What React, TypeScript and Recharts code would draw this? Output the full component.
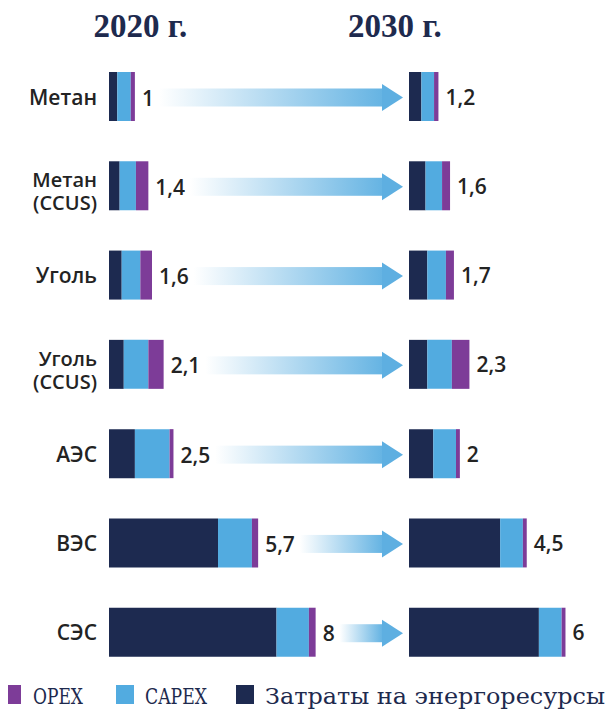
import React from "react";
import { BarChart, Bar, XAxis, YAxis, LabelList } from "recharts";

const categories = ["Метан", "Метан (CCUS)", "Уголь", "Уголь (CCUS)", "АЭС", "ВЭС", "СЭС"];

const energy2020 = [0.32, 0.41, 0.49, 0.57, 1.0, 4.21, 6.47];
const capex2020 = [0.52, 0.63, 0.72, 0.95, 1.34, 1.31, 1.25];
const opex2020 = [0.16, 0.48, 0.45, 0.59, 0.15, 0.24, 0.26];
const total2020 = ["1", "1,4", "1,6", "2,1", "2,5", "5,7", "8"];

const energy2030 = [0.48, 0.64, 0.71, 0.71, 0.94, 3.53, 5.03];
const capex2030 = [0.49, 0.64, 0.72, 0.95, 0.88, 0.88, 0.88];
const opex2030 = [0.17, 0.31, 0.31, 0.68, 0.15, 0.15, 0.15];
const total2030 = ["1,2", "1,6", "1,7", "2,3", "2", "4,5", "6"];

const years = ["2020 г.", "2030 г."];
const seriesNames = ["OPEX", "CAPEX", "Затраты на энергоресурсы"];

const NAVY = "#1d2a50";
const BLUE = "#52abe0";
const PURPLE = "#7d3c98";
const TEXT = "#232323";
const TITLE = "#1e2a4e";
const legendColors = [PURPLE, BLUE, NAVY];

const data2020 = categories.map((name, i) => ({
  name,
  energy: energy2020[i],
  capex: capex2020[i],
  opex: opex2020[i],
  total: total2020[i],
}));
const data2030 = categories.map((name, i) => ({
  name,
  energy: energy2030[i],
  capex: capex2030[i],
  opex: opex2030[i],
  total: total2030[i],
}));

const NUM_FONT = "600 21px 'Open Sans'";
let ctx: CanvasRenderingContext2D | null = null;
const measure = (t: string) => {
  if (!ctx) ctx = document.createElement("canvas").getContext("2d");
  if (!ctx) return t.length * 12;
  ctx.font = NUM_FONT;
  return ctx.measureText(t).width;
};

const C1_W = 405;
const C1_MR = 6;
const ARROW_TIP = C1_W - C1_MR + 4;

const CategoryTick = (props: any) => {
  const { x, y, payload } = props;
  const v: string = payload.value;
  const m = v.match(/^(.*?)\s*(\(.*\))$/);
  const common = {
    textAnchor: "end" as const,
    fill: TEXT,
    fontFamily: "'Open Sans'",
    fontWeight: 600,
  };
  if (m) {
    return (
      <g>
        <text x={x} y={y + 1} fontSize={20} {...common}>{m[1]}</text>
        <text x={x} y={y + 24} fontSize={20} {...common}>{m[2]}</text>
      </g>
    );
  }
  return (
    <text x={x} y={y + 8} fontSize={21} {...common}>
      {v}
    </text>
  );
};

const makeLabel = (withArrow: boolean, dy: number) => (props: any) => {
  const x = Number(props.x);
  const y = Number(props.y);
  const w = Number(props.width);
  const h = Number(props.height);
  const value = String(props.value);
  const idx = props.index;
  const cy = y + h / 2;
  const lx = x + w + 7;
  const tw = measure(value);
  const shaftStart = lx + tw + 5;
  const headLen = 21;
  const headBase = ARROW_TIP - headLen;
  const gid = `arrowGrad${idx}`;
  const acy = cy + 1;
  return (
    <g>
      {withArrow && (
        <g>
          <defs>
            <linearGradient id={gid} x1="0" y1="0" x2="1" y2="0">
              <stop offset="0%" stopColor="#ffffff" />
              <stop offset="100%" stopColor="#66b4e3" />
            </linearGradient>
          </defs>
          <rect x={shaftStart} y={acy - 9} width={Math.max(0, headBase - shaftStart)} height={18} fill={`url(#${gid})`} />
          <polygon
            points={`${headBase},${acy - 13.5} ${ARROW_TIP},${acy} ${headBase},${acy + 13.5}`}
            fill="#5eafe1"
          />
        </g>
      )}
      <text
        x={lx}
        y={cy + dy}
        fill={TEXT}
        fontFamily="'Open Sans'"
        fontWeight={600}
        fontSize={21}
      >
        {value}
      </text>
    </g>
  );
};

const label2020 = makeLabel(true, 9);
const label2030 = makeLabel(false, 8);

const legendSquareX = [3, 116, 236];
const legendTextX = [33, 145, 265];
const legendTextW = [50, 62, 340];

export default function App() {
  return (
    <div
      style={{
        position: "relative",
        width: 613,
        height: 722,
        margin: -8,
        background: "#ffffff",
        overflow: "hidden",
      }}
    >
      <div style={{ position: "absolute", left: 0, top: 0 }}>
        <BarChart
          width={C1_W}
          height={677}
          data={data2020}
          layout="vertical"
          margin={{ top: 52, right: C1_MR, bottom: 0, left: 0 }}
        >
          <XAxis type="number" domain={[0, 11.2]} hide />
          <YAxis
            type="category"
            dataKey="name"
            width={109}
            axisLine={false}
            tickLine={false}
            tickMargin={6}
            interval={0}
            tick={<CategoryTick />}
          />
          <Bar dataKey="energy" name={seriesNames[2]} stackId="a" fill={NAVY} barSize={49} isAnimationActive={false} />
          <Bar dataKey="capex" name={seriesNames[1]} stackId="a" fill={BLUE} barSize={49} isAnimationActive={false} />
          <Bar dataKey="opex" name={seriesNames[0]} stackId="a" fill={PURPLE} barSize={49} isAnimationActive={false}>
            <LabelList dataKey="total" content={label2020} />
          </Bar>
        </BarChart>
      </div>
      <div style={{ position: "absolute", left: 409, top: 0 }}>
        <BarChart
          width={204}
          height={677}
          data={data2030}
          layout="vertical"
          margin={{ top: 52, right: 0, bottom: 0, left: 0 }}
        >
          <XAxis type="number" domain={[0, 7.9]} hide />
          <YAxis type="category" dataKey="name" hide />
          <Bar dataKey="energy" name={seriesNames[2]} stackId="b" fill={NAVY} barSize={49} isAnimationActive={false} />
          <Bar dataKey="capex" name={seriesNames[1]} stackId="b" fill={BLUE} barSize={49} isAnimationActive={false} />
          <Bar dataKey="opex" name={seriesNames[0]} stackId="b" fill={PURPLE} barSize={49} isAnimationActive={false}>
            <LabelList dataKey="total" content={label2030} />
          </Bar>
        </BarChart>
      </div>
      <svg
        width={613}
        height={722}
        style={{ position: "absolute", left: 0, top: 0, pointerEvents: "none" }}
      >
        <text x={140.5} y={37} textAnchor="middle" fill={TITLE} fontFamily="'Liberation Serif'" fontWeight={700} fontSize={33}>
          {years[0]}
        </text>
        <text x={395} y={37} textAnchor="middle" fill={TITLE} fontFamily="'Liberation Serif'" fontWeight={700} fontSize={33}>
          {years[1]}
        </text>
        {seriesNames.map((n, i) => (
          <g key={n}>
            <rect x={legendSquareX[i]} y={685} width={18} height={19} fill={legendColors[i]} />
            <text
              x={legendTextX[i]}
              y={704}
              fill={TITLE}
              fontFamily="'DejaVu Serif'"
              fontSize={23}
              textLength={legendTextW[i]}
              lengthAdjust="spacingAndGlyphs"
            >
              {n}
            </text>
          </g>
        ))}
      </svg>
    </div>
  );
}
